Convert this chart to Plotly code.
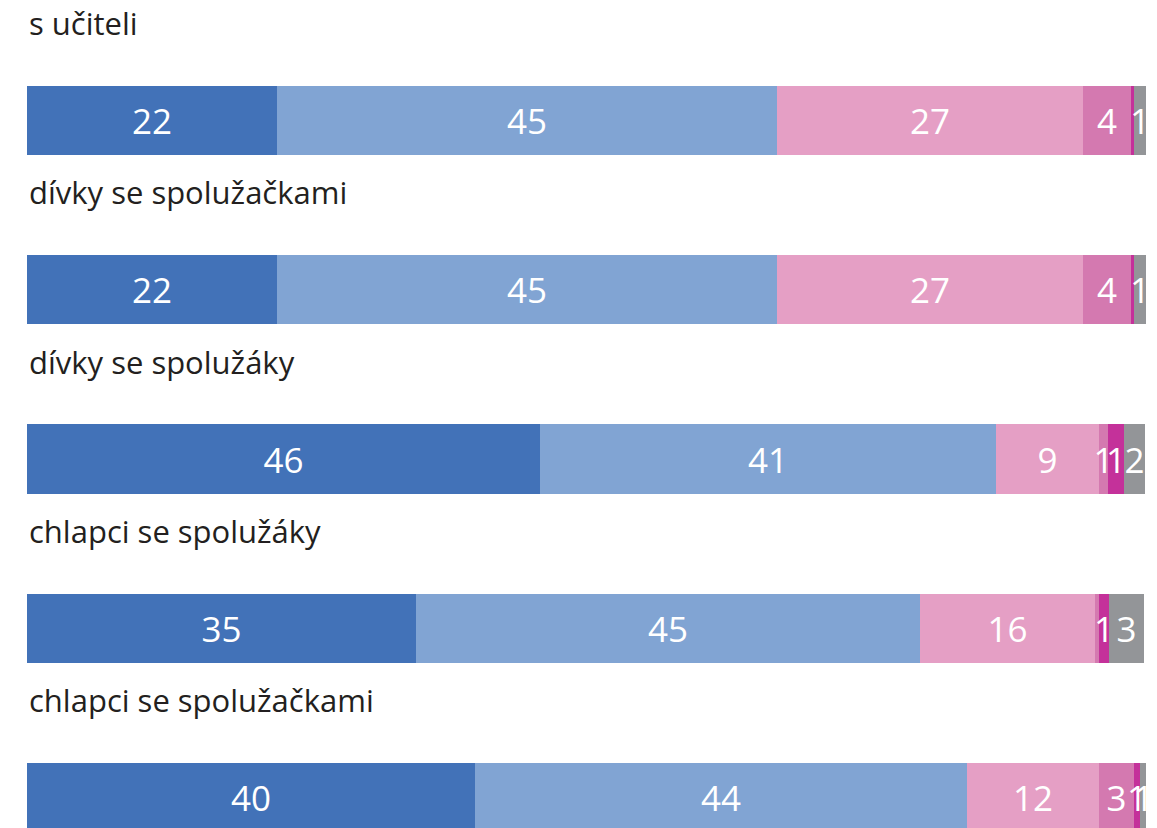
import plotly.graph_objects as go

categories = ["s učiteli", "dívky se spolužačkami", "dívky se spolužáky",
              "chlapci se spolužáky", "chlapci se spolužačkami"]
series_names = ["A", "B", "C", "D", "E", "F"]
s1 = [22.3, 22.3, 45.8, 34.8, 40.0]
s2 = [44.7, 44.7, 40.8, 45.0, 44.0]
s3 = [27.4, 27.4, 9.2, 15.6, 11.8]
s4 = [4.3, 4.3, 0.8, 0.4, 3.1]
s5 = [0.2, 0.2, 1.4, 0.9, 0.6]
s6 = [1.1, 1.1, 1.9, 3.1, 0.6]
colors = ["#4272B8", "#81A4D3", "#E59FC5", "#D479B0", "#C4319A", "#939598"]

positions = list(range(len(categories)))
fig = go.Figure()
for name, vals, col in zip(series_names, [s1, s2, s3, s4, s5, s6], colors):
    labels = [str(round(v)) if v >= 0.5 else "" for v in vals]
    fig.add_trace(go.Bar(
        y=positions, x=vals, orientation="h", name=name,
        marker=dict(color=col, line=dict(width=0)),
        width=0.408,
        text=labels, textposition="inside", insidetextanchor="middle",
        textangle=0, constraintext="none",
        textfont=dict(color="white", size=35, family="Open Sans"),
        hoverinfo="skip",
    ))

for p, c in zip(positions, categories):
    fig.add_annotation(x=0, y=p - 0.575, xref="x", yref="y", text=c,
                       showarrow=False, xanchor="left", yanchor="middle",
                       font=dict(size=31, color="#231F20", family="Open Sans"))

fig.update_layout(
    barmode="stack", width=1157, height=828,
    margin=dict(l=27, r=11, t=0, b=0),
    plot_bgcolor="white", paper_bgcolor="white",
    showlegend=False, bargap=0,
    uniformtext=dict(minsize=35, mode="show"),
)
fig.update_xaxes(range=[0, 100], visible=False)
fig.update_yaxes(range=[4.18, -0.712], visible=False)
fig.write_html("out.html", config={"displayModeBar": False},
               post_script="document.body.style.margin='0';document.body.style.overflow='hidden';")
